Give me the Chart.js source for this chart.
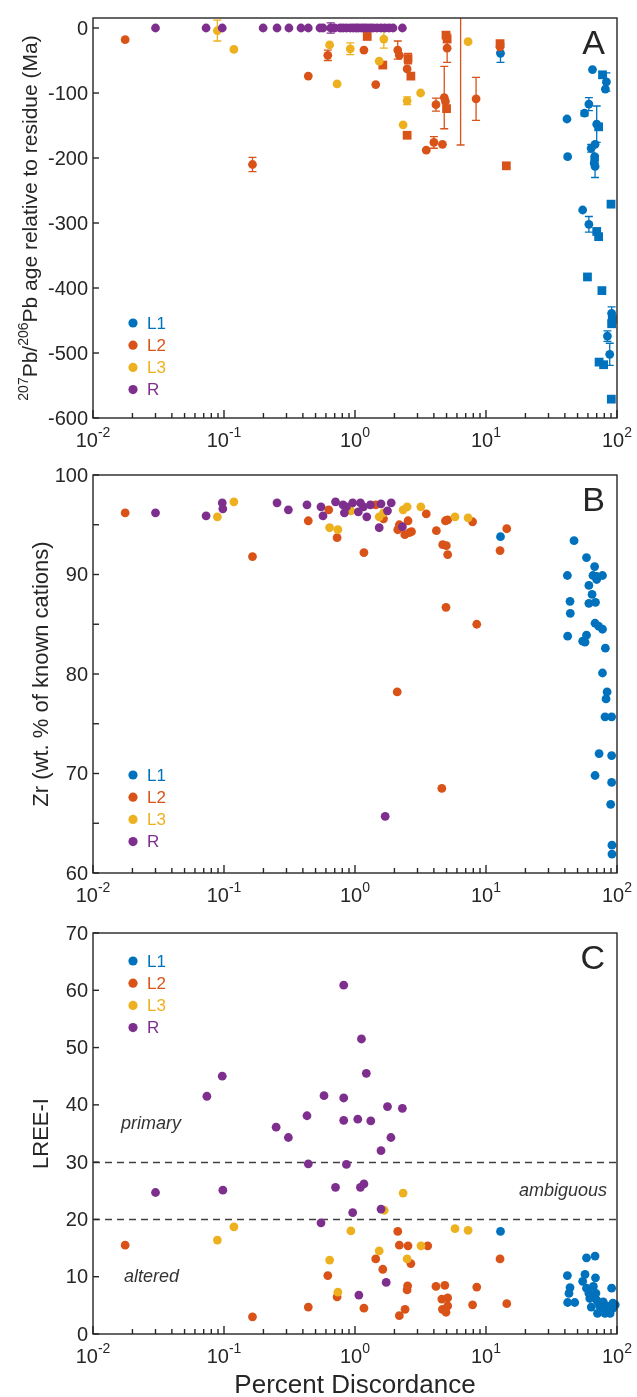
<!DOCTYPE html>
<html>
<head>
<meta charset="utf-8">
<script src="https://cdn.jsdelivr.net/npm/chart.js@4.4.0/dist/chart.umd.min.js"></script>
<style>
  body { margin: 0; background: #fff; width: 637px; height: 1397px; position: relative; overflow: hidden; }
  canvas { position: absolute; left: 0; }
</style>
</head>
<body>
<canvas id="chartA" width="637" height="455" style="top:0px"></canvas>
<canvas id="chartB" width="637" height="455" style="top:455px"></canvas>
<canvas id="chartC" width="637" height="487" style="top:910px"></canvas>
<script>
// ---- data (x = percent discordance) ----
// Panel A: 207Pb/206Pb age relative to residue (Ma); *Sq arrays are the square markers
const aL1X   = [12.9, 41.5, 42, 54.7, 65, 83, 81.5, 61, 56.5, 70, 63.5, 68, 67.5, 67, 68, 67.5, 61, 91, 84.5, 88];
const aL1Y   = [-39, -140, -198, -280, -64, -83, -94, -117, -131, -148, -185, -179, -198, -208, -213, -203, -302, -439, -474, -502];
const aL1Err = [14, 0, 0, 0, 0, 14, 0, 10, 4, 28, 6, 0, 0, 0, 17, 0, 12, 10, 8, 17];
const aL1SqX = [77.5, 72.4, 90, 70, 72.4, 59.5, 76.7, 92, 91, 73, 79, 90.5];
const aL1SqY = [-72, -152, -271, -313, -321, -383, -404, -448, -455, -514, -518, -571];
const aL1SqErr = [0, 0, 5, 0, 0, 0, 0, 0, 0, 0, 0, 0];

const aL2X   = [0.0176, 0.165, 0.44, 0.62, 1.17, 1.44, 2.12, 2.18, 2.5, 3.5, 4.0, 4.65, 4.15, 4.8, 4.9, 5.05, 6.4, 8.4, 12.8];
const aL2Y   = [-18, -210, -74, -42, -34, -87, -34, -42, -63, -188, -176, -179, -118, -107, -113, -31, 30, -109, -29];
const aL2Err = [0, 11, 0, 8, 0, 0, 14, 0, 0, 0, 9, 0, 10, 48, 0, 22, 210, 33, 8];
const aL2SqX = [1.24, 1.63, 2.54, 2.67, 2.5, 5.0, 4.95, 5.05, 12.8, 14.3];
const aL2SqY = [-13, -57, -47, -74, -165, -124, -11, -17, -24, -212];
const aL2SqErr = [0, 0, 8, 0, 0, 0, 0, 0, 0, 0];

const aL3X   = [0.089, 0.119, 0.64, 0.73, 0.92, 1.66, 1.53, 2.5, 2.33, 3.17, 7.3];
const aL3Y   = [-4, -33, -26, -86, -32, -17, -51, -112, -149, -100, -21];
const aL3Err = [16, 0, 0, 0, 9, 14, 0, 6, 0, 0, 0];

const aRX   = [0.030, 0.073, 0.097, 0.199, 0.254, 0.313, 0.387, 0.44, 0.54, 0.57, 0.652, 0.70, 0.77, 0.81, 0.86,
               0.92, 0.97, 1.02, 1.06, 1.12, 1.17, 1.23, 1.30, 1.37, 1.47, 1.58, 1.69, 1.82, 1.95, 2.30];
const aRY   = [0, 0, 0, 0, 0, 0, 0, 0, 0, 0, 0, 0, 0, 0, 0, 0, 0, 0, 0, 0, 0, 0, 0, 0, 0, 0, 0, 0, 0, 0];
const aRErr = [0, 0, 0, 0, 0, 0, 0, 0, 0, 0, 8, 0, 0, 0, 0, 0, 0, 0, 0, 0, 0, 0, 0, 0, 0, 0, 0, 0, 0, 0];

// Panel B: Zr (wt. % of known cations)
const bL1X = [12.9, 47, 58.5, 67.5, 41.8, 65.5, 70, 77.5, 70, 61, 64.5, 43.8, 61, 68.5, 44, 68, 72.5, 77.5, 42, 58.5,
              54.7, 57, 81.5, 77.5, 84, 82.5, 81, 91, 73, 91, 68, 91, 89.5, 91.5, 91.5];
const bL1Y = [93.8, 93.4, 91.7, 90.8, 89.9, 89.9, 89.8, 89.9, 89.5, 88.9, 88.0, 87.3, 87.1, 87.2, 86.1, 85.1, 84.8, 84.5, 83.8, 83.9,
              83.3, 83.2, 82.6, 80.1, 78.2, 77.5, 75.7, 75.7, 72.0, 71.8, 69.8, 69.1, 66.9, 62.8, 61.9];
const bL2X = [0.0176, 0.165, 0.44, 0.63, 0.73, 1.17, 1.44, 1.65, 2.12, 2.18, 2.4, 2.54, 2.6, 2.7, 3.5, 4.18, 4.67, 4.98, 5.1, 4.9,
              5.1, 4.95, 8.5, 7.9, 12.8, 14.4, 2.1, 4.6];
const bL2Y = [96.2, 91.8, 95.4, 96.5, 93.7, 92.2, 97.0, 95.6, 94.5, 95.0, 94.0, 95.4, 94.2, 94.3, 96.1, 94.4, 93.0, 92.9, 92.0, 95.4,
              95.5, 86.7, 85.0, 95.3, 92.4, 94.6, 78.2, 68.5];
const bL3X = [0.089, 0.119, 0.64, 0.74, 0.93, 1.53, 1.65, 2.33, 2.5, 3.18, 5.8, 7.3];
const bL3Y = [95.8, 97.3, 94.7, 94.5, 96.4, 95.8, 96.2, 96.5, 96.8, 96.8, 95.8, 95.7];
const bRX  = [0.030, 0.073, 0.097, 0.098, 0.254, 0.31, 0.43, 0.55, 0.57, 0.71, 0.81, 0.83, 0.86, 0.96, 1.06, 1.1, 1.16, 1.23, 1.31, 1.58,
              1.77, 1.89, 1.53, 2.3, 1.7];
const bRY  = [96.2, 95.9, 97.2, 96.6, 97.2, 96.5, 97.0, 96.8, 95.9, 97.3, 97.0, 96.2, 96.8, 97.2, 96.3, 97.2, 96.8, 95.8, 97.0, 97.1,
              96.4, 97.2, 94.7, 94.8, 65.7];

// Panel C: LREE-I
const cL1X = [12.9, 58.5, 68, 41.8, 57, 68.5, 54.7, 43.8, 58.5, 66, 91, 43, 61, 69, 62, 70, 42, 47.6, 63.6, 72.4,
              78.5, 83, 93, 77, 71, 81, 88.6, 86, 93, 74, 97];
const cL1Y = [17.9, 13.3, 13.6, 10.2, 10.4, 9.8, 9.2, 8.1, 8.0, 8.3, 8.0, 7.1, 7.1, 7.1, 6.2, 5.9, 5.5, 5.5, 4.7, 5.4,
              5.6, 4.9, 5.4, 4.5, 3.6, 3.6, 3.6, 4.5, 4.5, 4.8, 5.1];
const cL2X = [0.0176, 0.165, 0.44, 0.62, 0.73, 1.17, 1.44, 1.63, 2.12, 2.18, 2.54, 2.67, 3.59, 2.18, 2.41, 2.5, 2.52, 4.15, 4.85, 4.6,
              5.1, 4.65, 5.1, 4.95, 8.5, 7.9, 12.8, 14.4];
const cL2Y = [15.5, 3.0, 4.7, 10.2, 6.5, 4.5, 13.1, 11.3, 17.9, 15.5, 15.4, 12.3, 15.4, 3.2, 4.3, 7.7, 8.4, 8.3, 8.5, 6.1,
              6.3, 4.3, 4.9, 3.8, 8.2, 5.1, 13.1, 5.3];
const cL3X = [0.089, 0.119, 0.93, 0.64, 0.74, 2.33, 1.67, 1.53, 2.5, 3.19, 5.8, 7.3];
const cL3Y = [16.4, 18.7, 18.0, 12.9, 7.3, 24.6, 21.6, 14.5, 13.1, 15.4, 18.4, 18.1];
const cRX  = [0.030, 0.074, 0.097, 0.098, 0.25, 0.31, 0.43, 0.44, 0.55, 0.58, 0.71, 0.82, 0.82, 0.82, 0.86, 0.96, 1.05, 1.07, 1.10, 1.12,
              1.17, 1.22, 1.32, 1.58, 1.58, 1.73, 1.77, 1.88, 2.30];
const cRY  = [24.7, 41.5, 45.0, 25.1, 36.1, 34.3, 38.1, 29.7, 19.4, 41.6, 25.6, 60.9, 41.2, 37.3, 29.6, 21.2, 37.5, 6.8, 25.6, 51.5,
              26.2, 45.5, 37.2, 32.0, 21.8, 9.0, 39.7, 34.3, 39.4];
const cThresholds = [30, 20];

// axis ticks
const xDecades = [-2, -1, 0, 1, 2];
const aYTicks = [-600, -500, -400, -300, -200, -100, 0];
const bYTicks = [60, 65, 70, 75, 80, 85, 90, 95, 100];
const cYTicks = [0, 10, 20, 30, 40, 50, 60, 70];

const groups = ['L1', 'L2', 'L3', 'R'];
const COLORS = { L1: '#0072BD', L2: '#D95319', L3: '#EDB120', R: '#7E2F8E' };
const FONT = '"Liberation Sans", Arial, Helvetica, sans-serif';
const INK = '#262626';

function pts(xs, ys) {
  return xs.map((x, i) => ({ x: x, y: ys[i] }));
}

function series(group, xs, ys, errs, square) {
  return {
    label: group,
    data: pts(xs, ys),
    errs: errs || null,
    order: groups.length - groups.indexOf(group),
    backgroundColor: COLORS[group],
    borderColor: COLORS[group],
    pointStyle: square ? 'rect' : 'circle',
    pointRadius: square ? 6.2 : 4.4,
    pointBorderWidth: 0,
    pointHoverRadius: 4.4
  };
}

function drawRuns(ctx, runs, x, y, big, small, rise) {
  // runs: [text, isSuperscript]; draws left to right from x on baseline y
  runs.forEach(r => {
    ctx.font = (r[1] ? small : big) + 'px ' + FONT;
    ctx.fillText(r[0], x, r[1] ? y - rise : y);
    x += ctx.measureText(r[0]).width;
  });
}

function runsWidth(ctx, runs, big, small) {
  let w = 0;
  runs.forEach(r => {
    ctx.font = (r[1] ? small : big) + 'px ' + FONT;
    w += ctx.measureText(r[0]).width;
  });
  return w;
}

const panelPlugin = {
  id: 'panel',
  beforeDatasetsDraw(chart, args, opts) {
    const ctx = chart.ctx, a = chart.chartArea, xs = chart.scales.x, ys = chart.scales.y;
    ctx.save();
    // dashed threshold lines
    (opts.hlines || []).forEach(v => {
      const py = Math.round(ys.getPixelForValue(v)) + 0.5;
      ctx.strokeStyle = '#404040';
      ctx.lineWidth = 1.5;
      ctx.setLineDash([7, 5]);
      ctx.beginPath();
      ctx.moveTo(a.left, py);
      ctx.lineTo(a.right, py);
      ctx.stroke();
    });
    ctx.setLineDash([]);
    // error bars
    ctx.beginPath();
    ctx.rect(a.left, a.top, a.right - a.left, a.bottom - a.top);
    ctx.clip();
    chart.data.datasets.forEach(ds => {
      if (!ds.errs) return;
      ctx.strokeStyle = ds.borderColor;
      ctx.lineWidth = 1.3;
      ds.data.forEach((p, i) => {
        const e = ds.errs[i];
        if (!e) return;
        const px = xs.getPixelForValue(p.x);
        const y1 = ys.getPixelForValue(p.y + e);
        const y2 = ys.getPixelForValue(p.y - e);
        ctx.beginPath();
        ctx.moveTo(px, y1); ctx.lineTo(px, y2);
        ctx.moveTo(px - 4, y1); ctx.lineTo(px + 4, y1);
        ctx.moveTo(px - 4, y2); ctx.lineTo(px + 4, y2);
        ctx.stroke();
      });
    });
    ctx.restore();
  },
  afterDatasetsDraw(chart, args, opts) {
    const ctx = chart.ctx, a = chart.chartArea, xs = chart.scales.x, ys = chart.scales.y;
    ctx.save();
    // box
    ctx.strokeStyle = INK;
    ctx.lineWidth = 1.4;
    ctx.strokeRect(a.left, a.top, a.right - a.left, a.bottom - a.top);

    // y ticks and labels
    ctx.fillStyle = INK;
    ctx.textAlign = 'right';
    ctx.textBaseline = 'middle';
    ctx.font = '20px ' + FONT;
    opts.yTicks.forEach(v => {
      const py = ys.getPixelForValue(v);
      ctx.beginPath();
      ctx.moveTo(a.left, py);
      ctx.lineTo(a.left + 6, py);
      ctx.stroke();
      if (v % opts.yLabelStep === 0) ctx.fillText(String(v), a.left - 5, py + 1);
    });

    // x ticks (decades + minor) and 10^n labels
    ctx.textBaseline = 'alphabetic';
    ctx.textAlign = 'left';
    xDecades.forEach(d => {
      const px = xs.getPixelForValue(Math.pow(10, d));
      ctx.beginPath();
      ctx.moveTo(px, a.bottom);
      ctx.lineTo(px, a.bottom - 8);
      ctx.stroke();
      if (d < 2) {
        for (let m = 2; m <= 9; m++) {
          const mx = xs.getPixelForValue(m * Math.pow(10, d));
          ctx.beginPath();
          ctx.moveTo(mx, a.bottom);
          ctx.lineTo(mx, a.bottom - 5);
          ctx.stroke();
        }
      }
      const runs = [['10', false], [String(d), true]];
      const w = runsWidth(ctx, runs, 20, 14);
      drawRuns(ctx, runs, px - w / 2, a.bottom + 29, 20, 14, 10);
    });

    // y axis title (rotated)
    ctx.save();
    ctx.translate(opts.titleX, (a.top + a.bottom) / 2);
    ctx.rotate(-Math.PI / 2);
    const fs = opts.titleSize || 22;
    const tw = runsWidth(ctx, opts.yTitle, fs, 14);
    drawRuns(ctx, opts.yTitle, -tw / 2, 0, fs, 14, 9);
    ctx.restore();

    // x axis title
    if (opts.xTitle) {
      ctx.font = '26px ' + FONT;
      ctx.textAlign = 'center';
      ctx.fillText(opts.xTitle, (a.left + a.right) / 2, a.bottom + 59);
    }

    // panel letter
    ctx.font = '34px ' + FONT;
    ctx.textAlign = 'right';
    ctx.fillText(opts.letter, a.right - 12, a.top + 36);

    // legend
    ctx.font = '17px ' + FONT;
    ctx.textAlign = 'left';
    ctx.textBaseline = 'middle';
    groups.forEach((g, i) => {
      const ly = a.top + opts.legendTop + i * 22.2;
      ctx.fillStyle = COLORS[g];
      ctx.beginPath();
      ctx.arc(a.left + 40, ly, 4.6, 0, Math.PI * 2);
      ctx.fill();
      ctx.fillText(g, a.left + 54, ly + 1);
    });

    // italic notes
    ctx.fillStyle = '#333';
    ctx.font = 'italic 18px ' + FONT;
    (opts.notes || []).forEach(n => {
      ctx.textAlign = n.align;
      ctx.fillText(n.text, n.x, ys.getPixelForValue(n.y));
    });
    ctx.restore();
  }
};

function makeChart(id, datasets, o) {
  return new Chart(document.getElementById(id), {
    type: 'scatter',
    data: { datasets: datasets },
    options: {
      responsive: false,
      animation: false,
      events: [],
      layout: { padding: { top: o.top, right: 20, left: 0, bottom: 0 } },
      plugins: {
        legend: { display: false },
        tooltip: { enabled: false },
        panel: o.panel
      },
      scales: {
        x: {
          type: 'logarithmic', min: 0.01, max: 100,
          ticks: { display: false }, grid: { display: false }, border: { display: false },
          afterFit: s => { s.height = o.xh; }
        },
        y: {
          min: o.ymin, max: o.ymax,
          ticks: { display: false }, grid: { display: false }, border: { display: false },
          afterFit: s => { s.width = 93; }
        }
      }
    },
    plugins: [panelPlugin]
  });
}

const clipA = { left: 8, right: 8, top: 0, bottom: 8 };
const dsA = [
  series('L1', aL1X, aL1Y, aL1Err, false),
  series('L1', aL1SqX, aL1SqY, aL1SqErr, true),
  series('L2', aL2X, aL2Y, aL2Err, false),
  series('L2', aL2SqX, aL2SqY, aL2SqErr, true),
  series('L3', aL3X, aL3Y, aL3Err, false),
  series('R', aRX, aRY, aRErr, false)
];
dsA.forEach(d => { d.clip = clipA; });

makeChart('chartA', dsA, {
  top: 18, xh: 37, ymin: -600, ymax: 15.4,
  panel: {
    yTicks: aYTicks, yLabelStep: 100, titleX: 37, titleSize: 21, letter: 'A', legendTop: 305,
    yTitle: [['207', true], ['Pb/', false], ['206', true], ['Pb age relative to residue (Ma)', false]]
  }
});

const dsB = [
  series('L1', bL1X, bL1Y),
  series('L2', bL2X, bL2Y),
  series('L3', bL3X, bL3Y),
  series('R', bRX, bRY)
];
dsB.forEach(d => { d.clip = 8; });

makeChart('chartB', dsB, {
  top: 20, xh: 37, ymin: 60, ymax: 100,
  panel: {
    yTicks: bYTicks, yLabelStep: 10, titleX: 48, titleSize: 22, letter: 'B', legendTop: 300,
    yTitle: [['Zr (wt. % of known cations)', false]]
  }
});

const dsC = [
  series('L1', cL1X, cL1Y),
  series('L2', cL2X, cL2Y),
  series('L3', cL3X, cL3Y),
  series('R', cRX, cRY)
];
dsC.forEach(d => { d.clip = 8; });

makeChart('chartC', dsC, {
  top: 23, xh: 63, ymin: 0, ymax: 70,
  panel: {
    yTicks: cYTicks, yLabelStep: 10, titleX: 48, titleSize: 22, letter: 'C', legendTop: 28,
    yTitle: [['LREE-I', false]],
    xTitle: 'Percent Discordance',
    hlines: cThresholds,
    notes: [
      { text: 'primary', x: 121, y: 36.6, align: 'left' },
      { text: 'ambiguous', x: 607, y: 25, align: 'right' },
      { text: 'altered', x: 124, y: 9.9, align: 'left' }
    ]
  }
});
</script>
</body>
</html>
